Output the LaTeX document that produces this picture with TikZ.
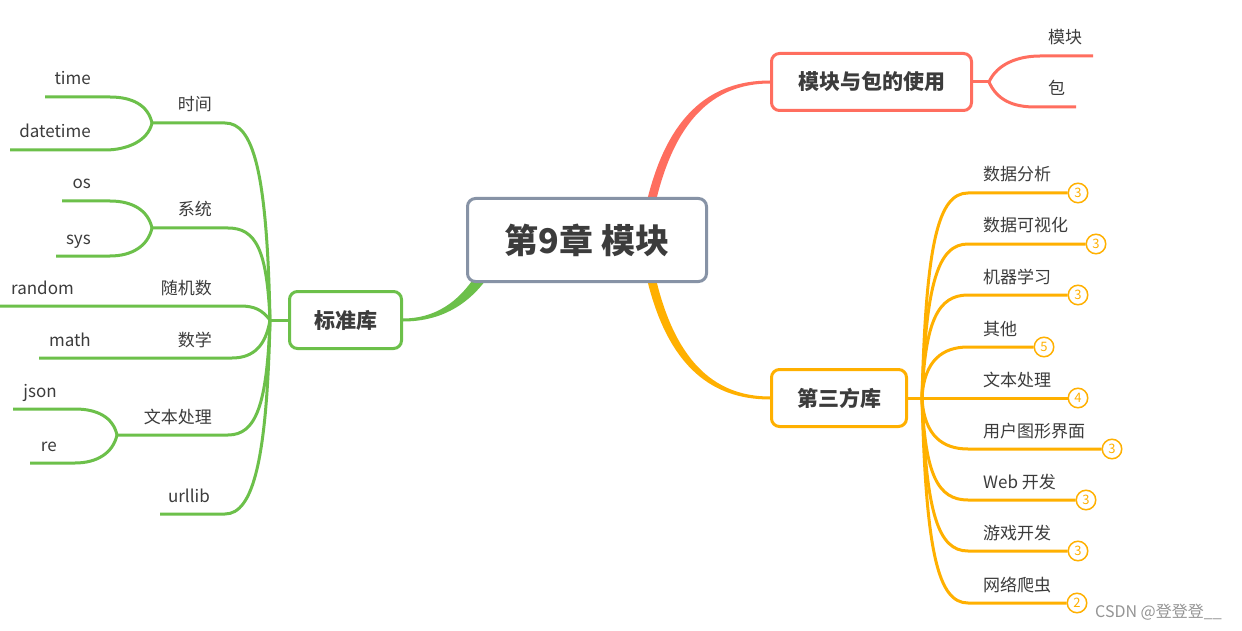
\documentclass[tikz,border=0pt]{standalone}
\usepackage{fontspec}
\setmainfont{Noto Sans CJK SC}
\usetikzlibrary{backgrounds, calc}

\definecolor{stdgreen}{HTML}{6CC04A}
\definecolor{modred}{HTML}{FF6E5F}
\definecolor{thirdorange}{HTML}{FFB000}
\definecolor{rootgray}{HTML}{8793A6}
\definecolor{txtgray}{HTML}{3C3C3C}

\tikzset{
    topic/.style={draw, rounded corners=8pt, line width=3pt, fill=white,
        minimum height=57pt, inner sep=0pt, text=txtgray,
        font=\fontsize{21}{24}\selectfont\bfseries},
    lbl/.style={inner sep=0pt, text=txtgray, font=\fontsize{17}{20}\selectfont},
    cnt/.style={circle, draw=thirdorange, fill=white, line width=1.5pt,
        minimum size=19.5pt, inner sep=0pt, text=thirdorange,
        font=\fontsize{13}{13}\selectfont},
    gline/.style={stdgreen, line width=3pt},
    rline/.style={modred, line width=3pt},
    oline/.style={thirdorange, line width=3pt},
}

\begin{document}
\begin{tikzpicture}[x=1pt, y=-1pt]

    \useasboundingbox (0,0) rectangle (1242,631);

    % ---- Central topic and main branches ----
    \node[topic, draw=rootgray, minimum width=239pt, minimum height=83pt,
        font=\fontsize{34}{36}\selectfont\bfseries] (root) at (587,240) {第9章 模块};
    \node[topic, draw=stdgreen, minimum width=112pt] (std) at (345.5,320) {标准库};
    \node[topic, draw=modred, minimum width=200pt] (mod) at (871.5,82) {模块与包的使用};
    \node[topic, draw=thirdorange, minimum width=135pt] (third) at (839,398) {第三方库};

    % ---- Junctions ----
    \coordinate (J1) at (270,320);   % standard library fan
    \coordinate (Jt) at (152,123);   % time
    \coordinate (Js) at (152,228);   % system
    \coordinate (Jx) at (117,435);   % text processing
    \coordinate (Jr) at (989,82);    % modules and packages
    \coordinate (J3) at (922,398);   % third party fan

    % ---- Free ends of the leaves ----
    \coordinate (timeE) at (45,97);
    \coordinate (dtE) at (10,150);
    \coordinate (osE) at (62,201);
    \coordinate (sysE) at (56,256);
    \coordinate (rndE) at (0,306);
    \coordinate (mathE) at (39,358);
    \coordinate (jsonE) at (13,409);
    \coordinate (reE) at (30,463);
    \coordinate (urlE) at (160,514);
    \coordinate (mkE) at (1093,56);
    \coordinate (bE) at (1076,107);

    % ---- Labels, standard library ----
    \node[lbl, anchor=base east] (tshijian) at (212,111) {时间};
    \node[lbl, anchor=base east] (ttime) at (91,85) {time};
    \node[lbl, anchor=base east] (tdatetime) at (91,138) {datetime};
    \node[lbl, anchor=base east] (txitong) at (212,216) {系统};
    \node[lbl, anchor=base east] (tos) at (91,189) {os};
    \node[lbl, anchor=base east] (tsys) at (91,244) {sys};
    \node[lbl, anchor=base east] (tsuiji) at (212,294) {随机数};
    \node[lbl, anchor=base east] (trandom) at (74,294) {random};
    \node[lbl, anchor=base east] (tshuxue) at (212,346) {数学};
    \node[lbl, anchor=base east] (tmath) at (91,346) {math};
    \node[lbl, anchor=base east] (twenben) at (212,423) {文本处理};
    \node[lbl, anchor=base east] (tjson) at (57,397) {json};
    \node[lbl, anchor=base east] (tre) at (57,451) {re};
    \node[lbl, anchor=base east] (turllib) at (210,502) {urllib};

    % ---- Labels, modules and packages ----
    \node[lbl, anchor=base west] (tmokuai) at (1048,44) {模块};
    \node[lbl, anchor=base west] (tbao) at (1048,95) {包};

    % ---- Labels and counters, third party ----
    \node[lbl, anchor=base west] (tfenxi) at (983,181) {数据分析};
    \node[cnt] (c1) at (1078,193) {3};
    \node[lbl, anchor=base west] (tkeshi) at (983,232) {数据可视化};
    \node[cnt] (c2) at (1096,244) {3};
    \node[lbl, anchor=base west] (tjiqi) at (983,283) {机器学习};
    \node[cnt] (c3) at (1078,295) {3};
    \node[lbl, anchor=base west] (tqita) at (983,335) {其他};
    \node[cnt] (c4) at (1044,347) {5};
    \node[lbl, anchor=base west] (twenben3) at (983,386) {文本处理};
    \node[cnt] (c5) at (1078,398) {4};
    \node[lbl, anchor=base west] (tgui) at (983,437) {用户图形界面};
    \node[cnt] (c6) at (1112,449) {3};
    \node[lbl, anchor=base west] (tweb) at (983,488) {Web 开发};
    \node[cnt] (c7) at (1086,500) {3};
    \node[lbl, anchor=base west] (tyouxi) at (983,539) {游戏开发};
    \node[cnt] (c8) at (1078,551) {3};
    \node[lbl, anchor=base west] (tpachong) at (983,591) {网络爬虫};
    \node[cnt] (c9) at (1077,603) {2};

    % ---- Watermark ----
    \node[anchor=west, inner sep=0pt, text=black!42,
        font=\fontsize{16}{16}\selectfont] (mark) at (1095,612) {CSDN @登登登\_\_};

    \begin{scope}[on background layer]
        \fill[white] (0,0) rectangle (1242,631);

        % ---- Tapered main branches ----
        \fill[stdgreen] ($(root.south west)+(10,-8)$)
            .. controls (458,303) and (434,318.5) .. ($(std.east)+(0,-1.5)$)
            -- ($(std.east)+(0,1.5)$)
            .. controls (438,321.5) and (467,307) .. ($(root.south west)+(22,-6)$) -- cycle;
        \fill[modred] (646,205) .. controls (666,118) and (708,80.5) .. ($(mod.west)+(0,-1.5)$)
            -- ($(mod.west)+(0,1.5)$) .. controls (712,83.5) and (674,122) .. (655,205) -- cycle;
        \fill[thirdorange] (646,275) .. controls (666,362) and (708,399.5) .. ($(third.west)+(0,1.5)$)
            -- ($(third.west)+(0,-1.5)$) .. controls (712,396.5) and (674,358) .. (655,275) -- cycle;

        % ---- Standard library ----
        \draw[gline] (std.west) -- (J1);
        \draw[gline] (J1) .. controls +(-3,-150) and +(28,0) .. (225,123) -- (Jt);
        \draw[gline] (Jt) .. controls +(-4,-18) and +(22,0) .. (110,97) -- (timeE);
        \draw[gline] (Jt) .. controls +(-4,18) and +(22,0) .. (105,150) -- (dtE);
        \draw[gline] (J1) .. controls +(-3,-70) and +(28,0) .. (228,228) -- (Js);
        \draw[gline] (Js) .. controls +(-4,-18) and +(22,0) .. (110,201) -- (osE);
        \draw[gline] (Js) .. controls +(-4,18) and +(22,0) .. (110,256) -- (sysE);
        \draw[gline] (J1) .. controls +(-8,-10) and +(15,0) .. (240,306) -- (rndE);
        \draw[gline] (J1) .. controls +(-4,25) and +(22,0) .. (232,358) -- (mathE);
        \draw[gline] (J1) .. controls +(-3,85) and +(28,0) .. (228,435) -- (Jx);
        \draw[gline] (Jx) .. controls +(-4,-18) and +(22,0) .. (75,409) -- (jsonE);
        \draw[gline] (Jx) .. controls +(-4,18) and +(22,0) .. (75,463) -- (reE);
        \draw[gline] (J1) .. controls +(-3,140) and +(28,0) .. (225,514) -- (urlE);

        % ---- Modules and packages ----
        \draw[rline] (mod.east) -- (Jr);
        \draw[rline] (Jr) .. controls +(8,-18) and +(-22,0) .. (1040,56) -- (mkE);
        \draw[rline] (Jr) .. controls +(8,18) and +(-22,0) .. (1035,107) -- (bE);

        % ---- Third party ----
        \draw[oline] (third.east) -- (J3);
        \draw[oline] (J3) .. controls +(4,-154) and +(-30,0) .. (968,193) -- (c1);
        \draw[oline] (J3) .. controls +(4,-115) and +(-30,0) .. (968,244) -- (c2);
        \draw[oline] (J3) .. controls +(3,-77) and +(-30,0) .. (968,295) -- (c3);
        \draw[oline] (J3) .. controls +(2,-38) and +(-25,0) .. (968,347) -- (c4);
        \draw[oline] (J3) -- (c5);
        \draw[oline] (J3) .. controls +(2,38) and +(-25,0) .. (968,449) -- (c6);
        \draw[oline] (J3) .. controls +(3,77) and +(-30,0) .. (968,500) -- (c7);
        \draw[oline] (J3) .. controls +(4,115) and +(-30,0) .. (968,551) -- (c8);
        \draw[oline] (J3) .. controls +(4,154) and +(-30,0) .. (968,603) -- (c9);
    \end{scope}

\end{tikzpicture}
\end{document}
